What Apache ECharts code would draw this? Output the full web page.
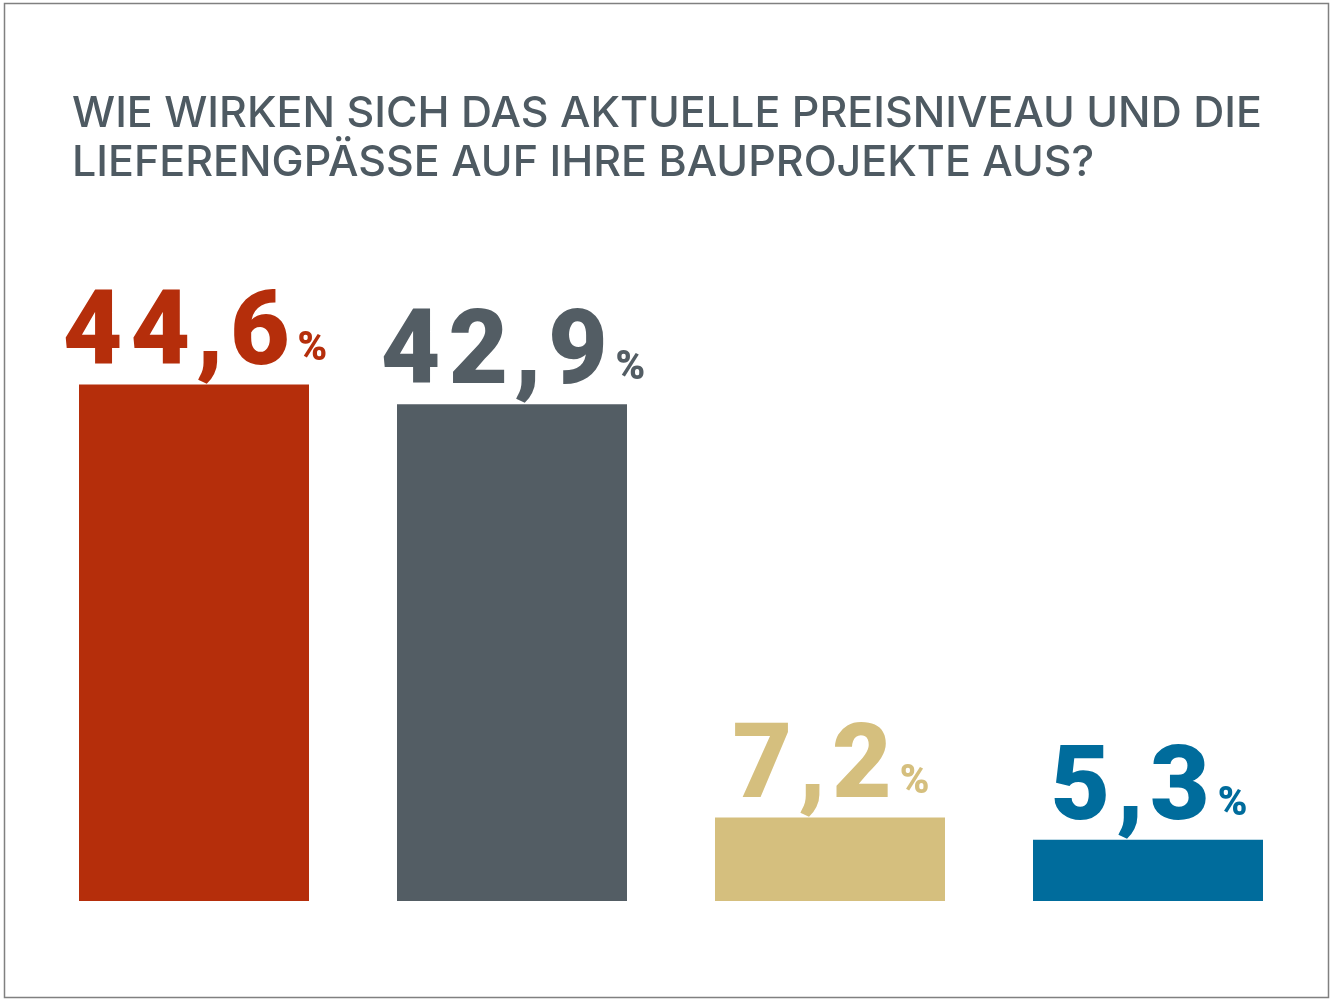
<!DOCTYPE html>
<html>
<head>
<meta charset="utf-8">
<script src="https://cdn.jsdelivr.net/npm/echarts@6/dist/echarts.min.js"></script>
<style>
html,body{margin:0;padding:0;background:#fff;}
#c{width:1333px;height:1000px;}
</style>
</head>
<body>
<div id="c"></div>
<script>
const titleLines = ['WIE WIRKEN SICH DAS AKTUELLE PREISNIVEAU UND DIE', 'LIEFERENGPÄSSE AUF IHRE BAUPROJEKTE AUS?'];
const categories = ['A', 'B', 'C', 'D'];
const values = [44.6, 42.9, 7.2, 5.3];
const colors = ['#b52e0b', '#535d64', '#d5bf7e', '#006c9c'];

function labelFmt(v) {
  const s = String(v).replace('.', ',');
  let out = '';
  for (const ch of s) {
    out += ch === ',' ? '{c|,}' : '{d|' + ch + '}';
  }
  return out + '{p|%}';
}

const chart = echarts.init(document.getElementById('c'), null, {renderer: 'canvas'});
chart.setOption({
  animation: false,
  backgroundColor: '#ffffff',
  title: {
    text: titleLines.join('\n'),
    left: 67,
    top: 85,
    textStyle: {
      fontFamily: 'Inter',
      fontWeight: 500,
      fontSize: 43,
      lineHeight: 49,
      color: '#4e5a62'
    }
  },
  grid: {left: 35, right: 26, top: 322, bottom: 99},
  xAxis: {
    type: 'category',
    data: categories,
    show: false
  },
  yAxis: {
    type: 'value',
    min: 0,
    max: 50,
    show: false
  },
  series: [{
    type: 'bar',
    barWidth: 230,
    data: values.map((v, i) => ({value: v, itemStyle: {color: colors[i]}, label: {color: colors[i]}})),
    label: {
      show: true,
      position: 'top',
      distance: -5,
      offset: [-1, 0],
      formatter: p => labelFmt(p.value),
      rich: {
        d: {fontFamily: 'Roboto', fontWeight: 900, fontSize: 103, lineHeight: 100, padding: [0, 4, 0, 4], verticalAlign: 'bottom'},
        c: {fontFamily: 'Roboto', fontWeight: 900, fontSize: 103, lineHeight: 100, padding: [0, 2, 0, 2], verticalAlign: 'bottom'},
        p: {fontFamily: 'Roboto', fontWeight: 900, fontSize: 40, lineHeight: 80, padding: [0, 0, 20, 4], verticalAlign: 'bottom'}
      }
    }
  }],
  graphic: [{
    type: 'rect',
    shape: {x: 4.5, y: 3.5, width: 1324, height: 994},
    style: {fill: 'none', stroke: '#808080', lineWidth: 1.5},
    silent: true
  }]
});
</script>
</body>
</html>
